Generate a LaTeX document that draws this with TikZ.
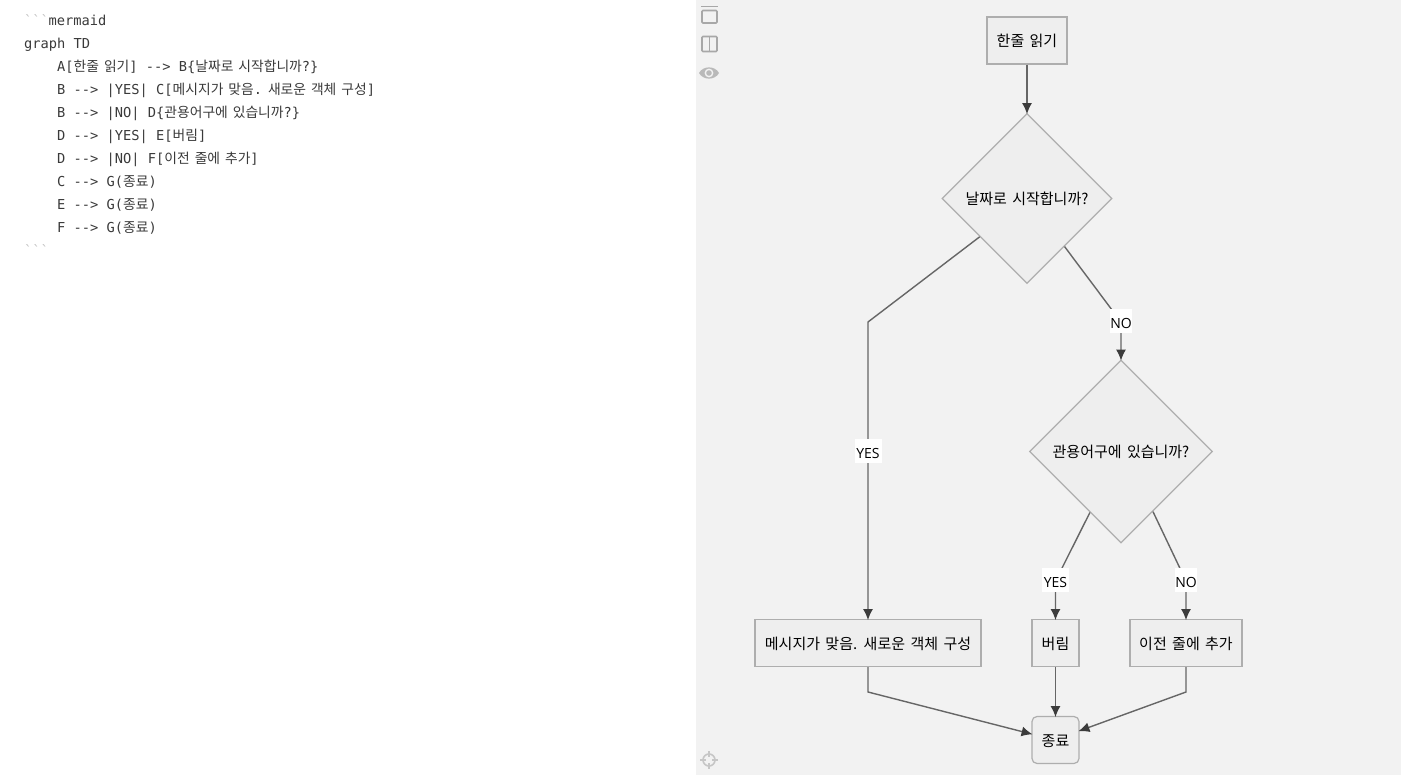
\documentclass[tikz,border=0pt]{standalone}
\usepackage{fontspec}
\usetikzlibrary{shapes.geometric,arrows.meta}
\setmainfont{Noto Sans CJK KR}
\newfontfamily\codelat{DejaVu Sans Mono}
\newfontfamily\codekr[WordSpace=2.63]{Noto Sans CJK KR}
\newfontfamily\nodekr[WordSpace=1.6]{Noto Sans CJK KR}
\newfontfamily\labelfont{Open Sans}
\definecolor{panel}{HTML}{F2F2F2}
\definecolor{nodefill}{HTML}{EEEEEE}
\definecolor{nodeline}{HTML}{AEAEAE}
\definecolor{edgecol}{HTML}{666666}
\definecolor{tipcol}{HTML}{3C3C3C}
\definecolor{codecol}{HTML}{3A3A3A}
\definecolor{fencecol}{HTML}{C4C4C4}
\definecolor{iconcol}{HTML}{A8A8A8}
\newcommand{\K}[1]{{\codekr\fontsize{13.8}{15}\selectfont #1}}
\newcommand{\N}[1]{\raisebox{-0.2pt}[\height][0pt]{#1}}
\newcommand{\LL}[1]{\raisebox{-2pt}[\height][0pt]{#1}}
\tikzset{
  x=1pt,y=-1pt,
  nodebase/.style={draw=nodeline,fill=nodefill,line width=1.2pt,inner sep=0pt,font=\nodekr\fontsize{15}{18}\selectfont,text=black},
  boxnode/.style={nodebase,rectangle,minimum height=47pt},
  endnode/.style={boxnode,rounded corners=5pt},
  decision/.style={nodebase,diamond,aspect=1},
  edgelabel/.style={fill=white,inner sep=0pt,minimum height=24pt,font=\labelfont\fontsize{14}{17}\selectfont,text=black},
  edge/.style={draw=edgecol,line width=1.4pt,shorten >=-1.2pt,-{Latex[length=11pt,width=10pt,color=tipcol]}},
  codeline/.style={anchor=base west,inner sep=0pt,text=codecol,font=\codelat\fontsize{13.7}{16}\selectfont},
  icon/.style={draw=iconcol,line width=1.6pt,fill=none}
}
\begin{document}
\begin{tikzpicture}
\useasboundingbox (0,0) rectangle (1401,775);
\fill[white] (0,0) rectangle (696,775);
\fill[panel] (696,0) rectangle (1401,775);

% code
\node[codeline,text=fencecol] (c0a) at (24,26) {```};
\node[codeline] (c0) at (48.5,26) {mermaid};
\node[codeline] (c1) at (24,49) {graph TD};
\node[codeline] (c2) at (57,72) {A[\K{한줄 읽기}] --> B\{\K{날짜로 시작합니까}?\}};
\node[codeline] (c3) at (57,95) {B --> |YES| C[\K{메시지가 맞음}.\K{ 새로운 객체 구성}]};
\node[codeline] (c4) at (57,118) {B --> |NO| D\{\K{관용어구에 있습니까}?\}};
\node[codeline] (c5) at (57,141) {D --> |YES| E[\K{버림}]};
\node[codeline] (c6) at (57,164) {D --> |NO| F[\K{이전 줄에 추가}]};
\node[codeline] (c7) at (57,187) {C --> G(\K{종료})};
\node[codeline] (c8) at (57,210) {E --> G(\K{종료})};
\node[codeline] (c9) at (57,233) {F --> G(\K{종료})};
\node[codeline,text=fencecol] (c10) at (24,256) {```};

% icons
\draw[icon] (701,6.5) -- (718,6.5);
\draw[icon,rounded corners=1pt] (702,10.5) rectangle (717,23);
\draw[icon,rounded corners=1pt] (702,36.5) rectangle (717,51.5);
\draw[icon] (709.5,36.5) -- (709.5,51.5);
\fill[iconcol!80!white] (699,73) .. controls (703,65.5) and (715,65.5) .. (719,73) .. controls (715,80.5) and (703,80.5) .. (699,73) -- cycle;
\fill[panel] (709,73) circle (4.4pt);
\fill[iconcol!80!white] (709,73) circle (2.8pt);
\draw[draw=iconcol!60!panel,line width=1.6pt] (709,760) circle (6pt);
\draw[draw=iconcol!60!panel,line width=1.6pt] (709,751) -- (709,757) (709,763) -- (709,769) (700,760) -- (706,760) (712,760) -- (718,760);

% nodes
\node[boxnode,minimum width=80pt] (A) at (1027,40.5) {\N{한줄 읽기}};
\node[decision,minimum width=170pt,minimum height=170pt] (B) at (1027,198.5) {\N{날짜로 시작합니까?}};
\node[decision,minimum width=183pt,minimum height=183pt] (D) at (1121,451.5) {\N{관용어구에 있습니까?}};
\node[boxnode,minimum width=226pt] (C) at (868,643) {\N{메시지가 맞음. 새로운 객체 구성}};
\node[boxnode,minimum width=47pt] (E) at (1055.5,643) {\N{버림}};
\node[boxnode,minimum width=112pt] (F) at (1186,643) {\N{이전 줄에 추가}};
\node[endnode,minimum width=47pt] (G) at (1055.5,740) {\N{종료}};

% bend points
\coordinate (bc) at (868,322);
\coordinate (bd) at (1121,322);
\coordinate (de) at (1055.5,581);
\coordinate (df) at (1186,581);
\coordinate (cg) at (868,692);
\coordinate (fg) at (1186,692);

% connectors
\draw[edge] (A.south) -- (B.north);
\draw[edge] (B.219.3) -- (bc) -- (C.north);
\draw[edge] (B.-52) -- (bd) -- (D.north);
\draw[edge] (D.-117) -- (de) -- (E.north);
\draw[edge] (D.-62.5) -- (df) -- (F.north);
\draw[edge] (C.south) -- (cg) -- (G.166);
\draw[edge] (E.south) -- (G.north);
\draw[edge] (F.south) -- (fg) -- (G.21);

% labels
\node[edgelabel,minimum width=27pt] (l1) at (868,451) {\LL{YES}};
\node[edgelabel,minimum width=22pt] (l2) at (1121,321) {\LL{NO}};
\node[edgelabel,minimum width=27pt] (l3) at (1055.5,580) {\LL{YES}};
\node[edgelabel,minimum width=22pt] (l4) at (1186,580) {\LL{NO}};
\end{tikzpicture}
\end{document}
